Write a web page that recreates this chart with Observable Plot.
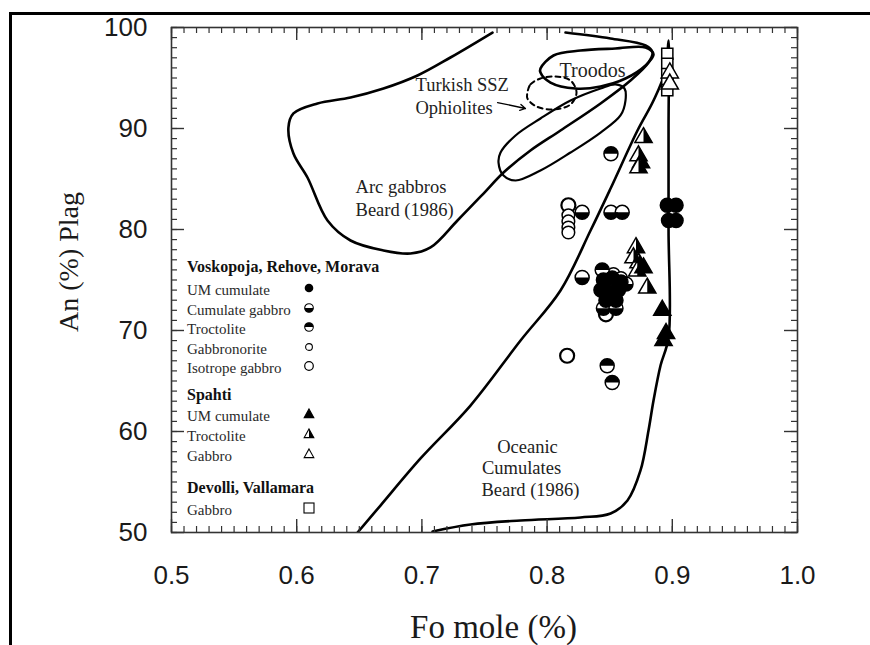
<!DOCTYPE html>
<html>
<head>
<meta charset="utf-8">
<script src="https://cdn.jsdelivr.net/npm/d3@7"></script>
<script src="https://cdn.jsdelivr.net/npm/@observablehq/plot@0.6"></script>
<style>
  html, body { margin: 0; padding: 0; background: #fff; overflow: hidden; }
  #wrap { position: relative; width: 870px; height: 645px; overflow: hidden; background: #fff; }
  #chart { position: absolute; left: 0; top: 0; }
  #border { position: absolute; left: 9px; top: 12px; width: 2000px; height: 2000px;
            border-left: 3px solid #000; border-top: 3px solid #000; box-sizing: border-box; pointer-events: none; }
  #legend { position: absolute; left: 0; top: 0; font-family: "Liberation Serif", "Times New Roman", serif; }
  .lg { position: absolute; white-space: nowrap; transform: translateY(-50%); line-height: 1; }
  .lg.head { font-weight: bold; font-size: 16px; color: #111; }
  .lg.item { font-size: 15px; color: #2a2a2a; }
  .sym { position: absolute; transform: translate(-50%, -50%); }
</style>
</head>
<body>
<div id="wrap">
  <div id="chart"></div>
  <div id="legend"></div>
  <div id="border"></div>
</div>
<script>
// ---- Axis ticks ----
const xTickValues = [0.5, 0.6, 0.7, 0.8, 0.9, 1.0];
const yTickValues = [50, 60, 70, 80, 90, 100];

// ---- Field outlines [Fo, An] ----
// Arc gabbros (Beard 1986)
const arcField = [
  [0.7564, 99.5], [0.7228, 97.03], [0.6965, 95.25], [0.6693, 93.96], [0.6430, 93.07],
  [0.6166, 92.48], [0.5974, 91.49], [0.5934, 90.10], [0.5974, 87.52], [0.6086, 85.15],
  [0.6246, 80.89], [0.6430, 78.91], [0.6693, 77.92], [0.6909, 77.62], [0.7069, 78.22],
  [0.7284, 80.89], [0.7492, 83.56], [0.7652, 85.64], [0.7867, 87.82], [0.8107, 89.80],
  [0.8427, 92.48], [0.8666, 94.75], [0.8810, 96.53], [0.8842, 97.52], [0.8786, 98.22],
  [0.8506, 98.91], [0.8147, 99.5]
];
// Troodos
const troodosField = [
  [0.7947, 95.94], [0.8051, 97.23], [0.8267, 97.72], [0.8546, 97.92], [0.8786, 98.02],
  [0.8850, 97.33], [0.8786, 96.24], [0.8626, 94.95], [0.8427, 94.16], [0.8227, 93.96],
  [0.8027, 94.55], [0.7947, 95.54]
];
// Elongated field below Troodos
const ophioliteField = [
  [0.7628, 87.62], [0.7748, 89.31], [0.7947, 90.99], [0.8187, 92.77], [0.8427, 93.96],
  [0.8546, 94.36], [0.8618, 93.96], [0.8626, 92.77], [0.8586, 91.29], [0.8427, 89.60],
  [0.8187, 87.62], [0.7947, 85.84], [0.7748, 84.85], [0.7652, 85.35], [0.7612, 86.63]
];
// Turkish SSZ ophiolites (dashed)
const turkishField = [
  [0.7843, 93.56], [0.7867, 94.36], [0.7947, 94.95], [0.8067, 95.15], [0.8187, 94.75],
  [0.8235, 93.56], [0.8187, 92.38], [0.8051, 91.88], [0.7915, 92.18], [0.7843, 92.97]
];
// Oceanic cumulates (Beard 1986)
const oceanicField = [
  [0.7085, 50.10], [0.7388, 50.79], [0.7788, 51.19], [0.8267, 51.49], [0.8507, 51.88],
  [0.8642, 53.17], [0.8746, 56.14], [0.8810, 60.10], [0.8850, 63.07], [0.8906, 66.53],
  [0.8970, 69.31], [0.8970, 80.0], [0.8970, 90.0], [0.8970, 98.71],
  [0.8946, 95.74], [0.8850, 92.77], [0.8722, 89.80], [0.8507, 84.06], [0.8347, 79.90],
  [0.8107, 73.96], [0.7788, 69.01], [0.7388, 62.57], [0.6989, 57.33], [0.6669, 52.67],
  [0.6486, 50.0]
];

// ---- Samples [Fo, An] ----
// Voskopoja, Rehove, Morava
const umCumulate = [[0.896, 82.4], [0.903, 82.4], [0.897, 80.9], [0.903, 80.9],
  [0.845, 75.0], [0.852, 75.2], [0.859, 74.8], [0.843, 74.0], [0.851, 73.8], [0.857, 74.0],
  [0.847, 73.0], [0.855, 73.0]];
const cumulateGabbro = [[0.828, 81.7], [0.851, 81.7], [0.860, 81.7], [0.828, 75.25],
  [0.845, 72.2], [0.855, 72.2], [0.863, 74.6]];
const troctolite = [[0.851, 87.5], [0.844, 76.0], [0.848, 66.5], [0.852, 64.85]];
const gabbronorite = [[0.817, 81.4], [0.817, 80.8], [0.817, 80.2], [0.817, 79.7],
  [0.853, 75.6], [0.859, 75.2]];
const isotropeGabbro = [[0.817, 82.4], [0.816, 67.5], [0.847, 71.6]];
// Spahti
const spahtiUM = [[0.892, 72.0], [0.895, 69.7], [0.893, 69.0], [0.877, 76.2]];
const spahtiTroctolite = [[0.877, 89.1], [0.873, 87.3], [0.875, 86.6], [0.873, 86.1],
  [0.871, 78.2], [0.869, 77.2], [0.873, 76.7], [0.872, 75.9], [0.880, 74.2]];
const spahtiGabbro = [[0.898, 95.5], [0.898, 94.4]];
// Devolli, Vallamara
const devolliGabbro = [[0.896, 97.4], [0.896, 96.4], [0.896, 95.4], [0.896, 94.5], [0.896, 93.8]];

// ---- Field names ----
const fieldNotesLeft = [
  {text: "Turkish SSZ", fo: 0.6949, an: 94.26},
  {text: "Ophiolites", fo: 0.6949, an: 91.98},
  {text: "Arc gabbros", fo: 0.6470, an: 84.16},
  {text: "Beard (1986)", fo: 0.6470, an: 81.88}
];
const fieldNotesCentered = [
  {text: "Troodos", fo: 0.8363, an: 95.74, size: 20},
  {text: "Oceanic", fo: 0.7843, an: 58.5, size: 18.5},
  {text: "Cumulates", fo: 0.7796, an: 56.35, size: 18.5},
  {text: "Beard (1986)", fo: 0.7867, an: 54.2, size: 18.5}
];
const ssArrow = [{x1: 0.7604, y1: 92.57, x2: 0.7827, y2: 91.98}];

// ---- Legend ----
const legendRows = [
  {label: "Voskopoja, Rehove, Morava", head: true},
  {label: "UM cumulate", sym: "full"},
  {label: "Cumulate gabbro", sym: "lowerHalf"},
  {label: "Troctolite", sym: "upperHalf"},
  {label: "Gabbronorite", sym: "smallOpen"},
  {label: "Isotrope gabbro", sym: "open"},
  {label: "Spahti", head: true},
  {label: "UM cumulate", sym: "triFull"},
  {label: "Troctolite", sym: "triHalf"},
  {label: "Gabbro", sym: "triOpen"},
  {label: "Devolli, Vallamara", head: true},
  {label: "Gabbro", sym: "square"}
];

// ---- Custom marker shapes (d3 symbol-type objects) ----
const upperHalf = {draw(ctx, size) { const r = Math.sqrt(size / Math.PI);
  ctx.moveTo(-r, 0); ctx.arc(0, 0, r, Math.PI, 2 * Math.PI); ctx.closePath(); }};
const lowerHalf = {draw(ctx, size) { const r = Math.sqrt(size / Math.PI);
  ctx.moveTo(r, 0); ctx.arc(0, 0, r, 0, Math.PI); ctx.closePath(); }};
const triangle = {draw(ctx, size) { const b = Math.sqrt(4 * size / Math.sqrt(3)), h = b * Math.sqrt(3) / 2;
  ctx.moveTo(0, -2 * h / 3); ctx.lineTo(b / 2, h / 3); ctx.lineTo(-b / 2, h / 3); ctx.closePath(); }};
const triangleRight = {draw(ctx, size) { const b = Math.sqrt(4 * size / Math.sqrt(3)), h = b * Math.sqrt(3) / 2;
  ctx.moveTo(0, -2 * h / 3); ctx.lineTo(b / 2, h / 3); ctx.lineTo(0, h / 3); ctx.closePath(); }};

const frameW = 870 - 171 - 73, frameH = 645 - 27 - 113;
const xMinor = d3.range(50, 101).map(d => d / 100);
const yMinor = d3.range(50, 101);
const fo = d => d[0], an = d => d[1];
const R = 7, RT = 6.4, SW = 1.5;
const serif = "Liberation Serif, Times New Roman, serif";
const sans = "Liberation Sans, Arial, sans-serif";
const fieldLine = (data, extra = {}) =>
  Plot.line(data, {x: fo, y: an, stroke: "#000", strokeWidth: 2.6, clip: true, ...extra});

const chart = Plot.plot({
  width: 870,
  height: 645,
  marginLeft: 171,
  marginRight: 73,
  marginTop: 27,
  marginBottom: 113,
  x: {domain: [0.5, 1.0]},
  y: {domain: [50, 100]},
  style: {fontFamily: serif, background: "transparent"},
  marks: [
    // fields
    fieldLine(arcField, {curve: "catmull-rom"}),
    fieldLine(oceanicField, {curve: "catmull-rom"}),
    fieldLine(ophioliteField, {curve: "catmull-rom-closed", strokeWidth: 2.2}),
    fieldLine(troodosField, {curve: "catmull-rom-closed"}),
    fieldLine(turkishField, {curve: "catmull-rom-closed", strokeWidth: 2, strokeDasharray: "5,4"}),
    Plot.arrow(ssArrow, {x1: "x1", y1: "y1", x2: "x2", y2: "y2", strokeWidth: 1.3, headLength: 7}),
    Plot.text(fieldNotesLeft, {x: "fo", y: "an", text: "text", fontSize: 18.5, textAnchor: "start",
      fontFamily: serif, fill: "#222"}),
    Plot.text(fieldNotesCentered, {x: "fo", y: "an", text: "text", fontSize: "size", textAnchor: "middle",
      fontFamily: serif, fill: "#222"}),

    // Devolli, Vallamara
    Plot.dot(devolliGabbro, {x: fo, y: an, symbol: "square", r: 6.3, fill: "#fff", stroke: "#000", strokeWidth: SW}),
    // Spahti
    Plot.dot(spahtiGabbro, {x: fo, y: an, symbol: triangle, r: RT, fill: "#fff", stroke: "#000", strokeWidth: SW}),
    Plot.dot(spahtiTroctolite, {x: fo, y: an, symbol: triangle, r: RT, fill: "#fff", stroke: "#000", strokeWidth: SW}),
    Plot.dot(spahtiTroctolite, {x: fo, y: an, symbol: triangleRight, r: RT, fill: "#000"}),
    Plot.dot(spahtiUM, {x: fo, y: an, symbol: triangle, r: RT, fill: "#000", stroke: "#000", strokeWidth: SW}),
    // Voskopoja, Rehove, Morava
    Plot.dot(isotropeGabbro, {x: fo, y: an, r: R, fill: "#fff", stroke: "#000", strokeWidth: 2.2}),
    Plot.dot(gabbronorite, {x: fo, y: an, r: 6.3, fill: "#fff", stroke: "#000", strokeWidth: SW}),
    Plot.dot(cumulateGabbro, {x: fo, y: an, r: R, fill: "#fff", stroke: "#000", strokeWidth: SW}),
    Plot.dot(cumulateGabbro, {x: fo, y: an, symbol: lowerHalf, r: R, fill: "#000"}),
    Plot.dot(troctolite, {x: fo, y: an, r: R, fill: "#fff", stroke: "#000", strokeWidth: SW}),
    Plot.dot(troctolite, {x: fo, y: an, symbol: upperHalf, r: R, fill: "#000"}),
    Plot.dot(umCumulate, {x: fo, y: an, r: R, fill: "#000", stroke: "#000", strokeWidth: SW}),

    // inward ticks on all four sides
    Plot.ruleX(xMinor, {x: d => d, insetTop: frameH - 6, stroke: "#333", strokeWidth: 1.2}),
    Plot.ruleX(xMinor, {x: d => d, insetBottom: frameH - 6, stroke: "#333", strokeWidth: 1.2}),
    Plot.ruleX(xTickValues, {x: d => d, insetTop: frameH - 13, stroke: "#333", strokeWidth: 1.4}),
    Plot.ruleX(xTickValues, {x: d => d, insetBottom: frameH - 13, stroke: "#333", strokeWidth: 1.4}),
    Plot.ruleY(yMinor, {y: d => d, insetRight: frameW - 6, stroke: "#333", strokeWidth: 1.2}),
    Plot.ruleY(yMinor, {y: d => d, insetLeft: frameW - 6, stroke: "#333", strokeWidth: 1.2}),
    Plot.ruleY(yTickValues, {y: d => d, insetRight: frameW - 13, stroke: "#333", strokeWidth: 1.4}),
    Plot.ruleY(yTickValues, {y: d => d, insetLeft: frameW - 13, stroke: "#333", strokeWidth: 1.4}),
    Plot.frame({stroke: "#333", strokeWidth: 1.6}),

    // tick labels
    Plot.axisX({ticks: xTickValues, anchor: "bottom", tickSize: 0, tickPadding: 33,
      tickFormat: d => d.toFixed(1), fontSize: 26, fontFamily: sans, fill: "#1a1a1a", label: null}),
    Plot.axisY({ticks: yTickValues, anchor: "left", tickSize: 0, tickPadding: 24,
      tickFormat: d => String(d), fontSize: 26, fontFamily: sans, fill: "#1a1a1a", label: null}),

    // axis titles
    Plot.text(["Fo mole (%)"], {frameAnchor: "bottom", textAnchor: "middle", lineAnchor: "top", dy: 82, dx: 9,
      fontSize: 33, fontFamily: serif, fill: "#1a1a1a"}),
    Plot.text(["An (%) Plag"], {frameAnchor: "left", textAnchor: "middle", lineAnchor: "middle",
      rotate: -90, dx: -102, dy: -18, fontSize: 28, fontFamily: serif, fill: "#1a1a1a"})
  ]
});
document.getElementById("chart").appendChild(chart);

// ---- Legend (drawn inside the frame, lower left) ----
const rowY = [267, 290, 310, 329, 349, 368, 395, 416, 436, 456, 488, 510];
const legendTextX = 187, legendSymX = 309;
function symbolSvg(kind) {
  const s = 14, c = 7, r = 4.3;
  let body = "";
  const tri = (fill) => `<path d="M7,2 L11.8,10.6 L2.2,10.6 Z" fill="${fill}" stroke="#000" stroke-width="1.1"/>`;
  switch (kind) {
    case "full": body = `<circle cx="${c}" cy="${c}" r="${r}" fill="#000"/>`; break;
    case "lowerHalf": body = `<circle cx="${c}" cy="${c}" r="${r}" fill="#fff" stroke="#000" stroke-width="1.1"/>
      <path d="M${c - r},${c} A${r},${r} 0 0 0 ${c + r},${c} Z" fill="#000"/>`; break;
    case "upperHalf": body = `<circle cx="${c}" cy="${c}" r="${r}" fill="#fff" stroke="#000" stroke-width="1.1"/>
      <path d="M${c - r},${c} A${r},${r} 0 0 1 ${c + r},${c} Z" fill="#000"/>`; break;
    case "smallOpen": body = `<circle cx="${c}" cy="${c}" r="3.4" fill="#fff" stroke="#000" stroke-width="1.1"/>`; break;
    case "open": body = `<circle cx="${c}" cy="${c}" r="${r}" fill="#fff" stroke="#000" stroke-width="1.2"/>`; break;
    case "triFull": body = tri("#000"); break;
    case "triHalf": body = tri("#fff") + `<path d="M7,2 L11.8,10.6 L7,10.6 Z" fill="#000"/>`; break;
    case "triOpen": body = tri("#fff"); break;
    case "square": body = `<rect x="2" y="2" width="10" height="10" fill="#fff" stroke="#000" stroke-width="1.1"/>`; break;
  }
  return `<svg width="${s}" height="${s}" viewBox="0 0 ${s} ${s}">${body}</svg>`;
}
const legend = document.getElementById("legend");
legendRows.forEach((row, i) => {
  const t = document.createElement("div");
  t.className = "lg " + (row.head ? "head" : "item");
  t.style.left = legendTextX + "px";
  t.style.top = rowY[i] + "px";
  t.textContent = row.label;
  legend.appendChild(t);
  if (row.sym) {
    const s = document.createElement("div");
    s.className = "sym";
    s.style.left = legendSymX + "px";
    s.style.top = rowY[i] + "px";
    s.innerHTML = symbolSvg(row.sym);
    legend.appendChild(s);
  }
});
</script>
</body>
</html>
